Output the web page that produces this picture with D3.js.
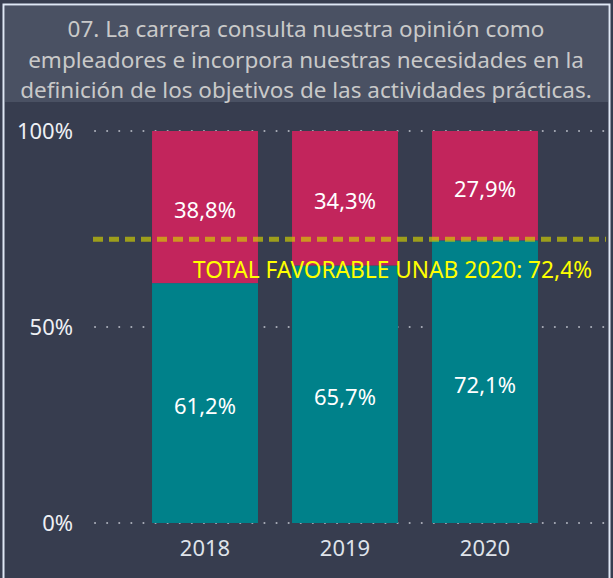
<!DOCTYPE html>
<html>
<head>
<meta charset="utf-8">
<script src="https://cdnjs.cloudflare.com/ajax/libs/d3/7.8.5/d3.min.js"></script>
<style>
  html, body { margin: 0; padding: 0; background: #373d4f; }
  svg { display: block; }
</style>
</head>
<body>
<div id="chart"></div>
<script>
'use strict';
// data
var years = ['2018', '2019', '2020'];
var favorable = [61.2, 65.7, 72.1];
var unfavorable = [38.8, 34.3, 27.9];
var yTicks = [0, 50, 100];
var target = 72.4;
var titleLines = [
  '07. La carrera consulta nuestra opinión como',
  'empleadores e incorpora nuestras necesidades en la',
  'definición de los objetivos de las actividades prácticas.'
];

var W = 613, H = 578;
var font = '"Noto Sans", "Open Sans", sans-serif';
var svg = d3.select('#chart').append('svg')
  .attr('width', W)
  .attr('height', H);

svg.append('rect').attr('width', W).attr('height', H).attr('fill', '#373d4f');

// title box
svg.append('rect')
  .attr('x', 5).attr('y', 6).attr('width', 603).attr('height', 96)
  .attr('fill', '#4a5163');

svg.selectAll('text.title')
  .data(titleLines)
  .enter()
  .append('text')
  .attr('class', 'title')
  .attr('x', 306)
  .attr('y', function(d, i) { return 37 + i * 30.5; })
  .attr('text-anchor', 'middle')
  .attr('font-family', font)
  .attr('font-size', '22.5px')
  .attr('fill', '#c9c9c9')
  .text(function(d) { return d; });

// frame
svg.append('path')
  .attr('d', 'M3.5,' + (H + 2) + 'V4.5H609.5V' + (H + 2))
  .attr('fill', 'none')
  .attr('stroke', '#dfe8f5')
  .attr('stroke-width', 2);

var x = d3.scaleBand().domain(years).range([90, 600])
  .paddingInner(0.243).paddingOuter(0.443);
var y = d3.scaleLinear().domain([0, 100]).range([523, 131]);

// dotted gridlines
svg.selectAll('line.grid')
  .data(yTicks)
  .enter()
  .append('line')
  .attr('class', 'grid')
  .attr('x1', 95).attr('x2', 606)
  .attr('y1', function(d) { return y(d); })
  .attr('y2', function(d) { return y(d); })
  .attr('stroke', '#a9adb8')
  .attr('stroke-width', 2)
  .attr('stroke-linecap', 'round')
  .attr('stroke-dasharray', '0.1,12');

svg.selectAll('text.ytick')
  .data(yTicks)
  .enter()
  .append('text')
  .attr('class', 'ytick')
  .attr('x', 73)
  .attr('y', function(d) { return y(d) + 8; })
  .attr('text-anchor', 'end')
  .attr('font-family', font)
  .attr('font-size', '22px')
  .attr('fill', '#eef0f4')
  .text(function(d) { return d + '%'; });

var rows = years.map(function(d, i) {
  return { year: d, fav: favorable[i], unf: unfavorable[i] };
});

// favorable (bottom)
svg.selectAll('rect.fav')
  .data(rows)
  .enter()
  .append('rect')
  .attr('class', 'fav')
  .attr('x', function(d) { return x(d.year); })
  .attr('width', x.bandwidth())
  .attr('y', function(d) { return y(d.fav); })
  .attr('height', function(d) { return y(0) - y(d.fav); })
  .attr('fill', '#00818a');

// unfavorable (top)
svg.selectAll('rect.unf')
  .data(rows)
  .enter()
  .append('rect')
  .attr('class', 'unf')
  .attr('x', function(d) { return x(d.year); })
  .attr('width', x.bandwidth())
  .attr('y', function(d) { return y(d.fav + d.unf); })
  .attr('height', function(d) { return y(d.fav) - y(d.fav + d.unf); })
  .attr('fill', '#c2255c');

function fmt(v) { return v.toFixed(1).replace('.', ',') + '%'; }

svg.selectAll('text.favlab')
  .data(rows)
  .enter()
  .append('text')
  .attr('class', 'favlab')
  .attr('x', function(d) { return x(d.year) + x.bandwidth() / 2; })
  .attr('y', function(d) { return y(d.fav / 2) + 11; })
  .attr('text-anchor', 'middle')
  .attr('font-family', font)
  .attr('font-size', '22px')
  .attr('fill', '#ffffff')
  .text(function(d) { return fmt(d.fav); });

svg.selectAll('text.unflab')
  .data(rows)
  .enter()
  .append('text')
  .attr('class', 'unflab')
  .attr('x', function(d) { return x(d.year) + x.bandwidth() / 2; })
  .attr('y', function(d) { return y(d.fav + d.unf / 2) + 11; })
  .attr('text-anchor', 'middle')
  .attr('font-family', font)
  .attr('font-size', '22px')
  .attr('fill', '#ffffff')
  .text(function(d) { return fmt(d.unf); });

// target line
svg.append('line')
  .attr('x1', 93).attr('x2', 606)
  .attr('y1', y(target)).attr('y2', y(target))
  .attr('stroke', '#d4d200')
  .attr('stroke-opacity', 0.65)
  .attr('stroke-width', 5)
  .attr('stroke-dasharray', '10,6');

svg.append('text')
  .attr('x', 592)
  .attr('y', y(target) + 39)
  .attr('text-anchor', 'end')
  .attr('font-family', font)
  .attr('font-size', '22.7px')
  .attr('fill', '#ffff00')
  .text('TOTAL FAVORABLE UNAB 2020: ' + fmt(target));

// x axis labels
svg.selectAll('text.xlab')
  .data(years)
  .enter()
  .append('text')
  .attr('class', 'xlab')
  .attr('x', function(d) { return x(d) + x.bandwidth() / 2; })
  .attr('y', 556)
  .attr('text-anchor', 'middle')
  .attr('font-family', font)
  .attr('font-size', '22px')
  .attr('fill', '#dfe3ea')
  .text(function(d) { return d; });
</script>
</body>
</html>
